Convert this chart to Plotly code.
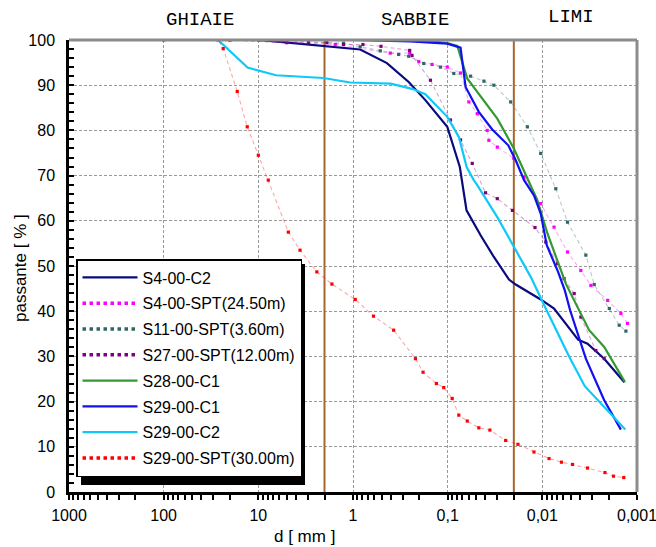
import plotly.graph_objects as go

# ---------------- data (grain size d [mm], passing %) ----------------
s4_c2_d = [25, 10, 5.9, 1.07, 0.839, 0.438, 0.258, 0.172, 0.101, 0.0744, 0.0632, 0.0449,
           0.0325, 0.0225, 0.0191, 0.0104, 0.00752, 0.00419, 0.00333, 0.00222, 0.00136]
s4_c2_p = [100, 100, 99.6, 98.1, 97.9, 94.9, 90.7, 86.7, 80.8, 71.9, 62.3, 56.8,
           52, 47, 45.9, 42.6, 40.6, 33.7, 32.8, 29.5, 24.3]

s4_spt_d = [20, 1.54, 0.404, 0.252, 0.202, 0.146, 0.101, 0.0731, 0.0597, 0.0487, 0.0382,
            0.0367, 0.0299, 0.020, 0.0156, 0.0104, 0.00752, 0.00542, 0.00392, 0.00307,
            0.00204, 0.00148, 0.00126]
s4_spt_p = [100, 99, 97.1, 97.1, 95.2, 94.6, 94, 92.7, 86.3, 83.7, 80,
            77.8, 76.3, 73.8, 69.7, 63.8, 58.6, 53.1, 49, 45.7,
            42.4, 39.5, 37.3]

s11_spt_d = [10, 1.26, 0.839, 0.515, 0.33, 0.258, 0.179, 0.119, 0.0861, 0.0573, 0.0414,
             0.0325, 0.0216, 0.0144, 0.0104, 0.00721, 0.00542, 0.00347, 0.00283, 0.00196,
             0.00154, 0.00131]
s11_spt_p = [100, 99.3, 98.5, 97.6, 96.8, 96.4, 94.8, 94, 92.6, 92, 90.9,
             90, 86.3, 80.8, 74.9, 67.1, 59.7, 52.4, 45.9, 40.6,
             36.9, 35.6]

s27_spt_d = [20, 5.0, 2.96, 1.89, 1.26, 0.786, 0.506, 0.252, 0.238, 0.152, 0.0934, 0.0731,
             0.055, 0.0398, 0.0299, 0.0207, 0.01195, 0.0092, 0.00692, 0.00589, 0.00461,
             0.00392, 0.00272, 0.00222]
s27_spt_p = [100, 99.4, 99.4, 99.4, 99, 99, 98.6, 97.7, 96.6, 91.1, 82.3, 77.9,
             72.7, 66.2, 64.9, 62.3, 58.5, 55.3, 50.5, 47.2, 43.9,
             38.7, 31.3, 29.5]

s28_c1_d = [25, 0.2, 0.101, 0.079, 0.0622, 0.0299, 0.020, 0.0144, 0.01127, 0.00883,
            0.00692, 0.00565, 0.00425, 0.0032, 0.00222, 0.00134]
s28_c1_p = [100, 100, 99.3, 98.7, 91.5, 82.6, 76, 69.3, 64.5, 57.2,
            51.3, 46.1, 40.9, 35.8, 32.1, 24.3]

s29_c1_d = [25, 1.0, 0.248, 0.101, 0.0731, 0.0647, 0.0469, 0.0338, 0.0229, 0.0191, 0.0156,
            0.01225, 0.0104, 0.00898, 0.00682, 0.00579, 0.00509, 0.00347, 0.00222, 0.00148]
s29_c1_p = [100, 100, 99.7, 99.2, 98.3, 89.6, 84.1, 80.2, 76.7, 73.4, 69,
            65.6, 61.6, 54.6, 48.7, 44.6, 40.2, 29.5, 20.3, 13.8]

s29_c2_d = [100, 26.6, 13.0, 6.5, 2.05, 1.07, 0.40, 0.238, 0.172, 0.101, 0.076, 0.063,
            0.053, 0.0487, 0.0299, 0.020, 0.01327, 0.0092, 0.0052, 0.00356, 0.00222, 0.00133]
s29_c2_p = [100, 100, 93.9, 92.2, 91.6, 90.6, 90.35, 89.2, 88, 83, 78.5, 71.9,
            69, 67.9, 60.8, 54.2, 47.6, 40.6, 29.9, 23.4, 18.8, 13.8]

s29_spt_d = [100, 26.6, 23.5, 16.7, 13.1, 10.0, 7.85, 4.82, 3.63, 2.41, 1.67, 0.948, 0.607,
             0.372, 0.219, 0.182, 0.1315, 0.11, 0.0896, 0.0762, 0.0621, 0.0469, 0.0358,
             0.0244, 0.0181, 0.01225, 0.0085, 0.00628, 0.0048, 0.00333, 0.00218, 0.00177,
             0.00138]
s29_spt_p = [100, 100, 98.1, 88.6, 80.8, 74.5, 69, 57.5, 53.5, 48.7, 46, 42.6, 38.9,
             35.8, 29.5, 26.5, 24, 23.1, 20.7, 17, 15.7, 14.2, 13.7,
             11.4, 10.55, 8.85, 7.4, 6.6, 6.1, 5.3, 4.3, 3.5,
             3.2]

# class boundaries [mm]
boundaries = [2, 0.02]
zone_labels = ["GHIAIE", "SABBIE", "LIMI"]

x_tickvals = [1000, 100, 10, 1, 0.1, 0.01, 0.001]
x_ticktext = ["1000", "100", "10", "1", "0,1", "0,01", "0,001"]
y_tickvals = list(range(0, 101, 10))

FONT = "Arial, Liberation Sans, sans-serif"
MONO = "Liberation Mono, Courier New, monospace"

# ---------------- figure ----------------
W, H = 656, 547
ML, MR, MT, MB = 69, 19, 40, 55
PW, PH = W - ML - MR, H - MT - MB


def xp(px):
    return (px - ML) / PW


def yp(py):
    return (H - MB - py) / PH


fig = go.Figure()

# class boundary lines
for b in boundaries:
    fig.add_trace(go.Scatter(x=[b, b], y=[0, 100], mode="lines",
                             line=dict(color="#A8672F", width=2),
                             showlegend=False, hoverinfo="skip"))

series = [
    ("S4-00-C2", s4_c2_d, s4_c2_p, "#0A0A80", "solid"),
    ("S4-00-SPT(24.50m)", s4_spt_d, s4_spt_p, "#FF00FF", "dot"),
    ("S11-00-SPT(3.60m)", s11_spt_d, s11_spt_p, "#2F6666", "dot"),
    ("S27-00-SPT(12.00m)", s27_spt_d, s27_spt_p, "#800080", "dot"),
    ("S28-00-C1", s28_c1_d, s28_c1_p, "#339933", "solid"),
    ("S29-00-C1", s29_c1_d, s29_c1_p, "#1010F0", "solid"),
    ("S29-00-C2", s29_c2_d, s29_c2_p, "#10C8F8", "solid"),
    ("S29-00-SPT(30.00m)", s29_spt_d, s29_spt_p, "#FF0000", "dot"),
]


def faint(hexcol, a):
    h = hexcol.lstrip("#")
    r, g, b = int(h[0:2], 16), int(h[2:4], 16), int(h[4:6], 16)
    return f"rgba({r},{g},{b},{a})"


for i, (name, d, p, col, style) in enumerate(series):
    grp = f"g{i}"
    if style == "solid":
        fig.add_trace(go.Scatter(x=d, y=p, name=name, mode="lines", legendgroup=grp,
                                 line=dict(color=col, width=2.2)))
    else:
        fig.add_trace(go.Scatter(x=d, y=p, name=name, mode="lines+markers", legendgroup=grp,
                                 line=dict(color=faint(col, 0.35), width=1.1, dash="4px,3px"),
                                 marker=dict(symbol="square", size=3.2, color=col),
                                 showlegend=False))
        # legend entry (thick dotted sample)
        fig.add_trace(go.Scatter(x=[None], y=[None], name=name, mode="lines", legendgroup=grp,
                                 line=dict(color=col, width=3.5, dash="dot")))

fig.update_xaxes(type="log", range=[3, -3], autorange=False, automargin=False,
                 tickvals=x_tickvals, ticktext=x_ticktext,
                 tickfont=dict(family=FONT, size=16, color="black"),
                 ticklabeloverflow="allow",
                 showgrid=True, gridcolor="#9A9A9A", gridwidth=1, griddash="3px,2px",
                 showline=True, linecolor="black", linewidth=2.5,
                 ticks="outside", ticklen=5, tickwidth=1.5, tickcolor="black",
                 ticklabelstandoff=2,
                 minor=dict(tickvals=[m * 10 ** e for e in range(-3, 3) for m in range(2, 10)],
                            ticks="outside", ticklen=5, tickwidth=1.5, tickcolor="black",
                            showgrid=False),
                 zeroline=False)

fig.update_yaxes(range=[0, 100], autorange=False, automargin=False, tickvals=y_tickvals,
                 tickfont=dict(family=FONT, size=16, color="black"),
                 showgrid=True, gridcolor="#9A9A9A", gridwidth=1, griddash="3px,2px",
                 showline=True, linecolor="black", linewidth=2.5,
                 ticks="inside", ticklen=5, tickwidth=1.5, tickcolor="black",
                 ticklabelstandoff=8,
                 minor=dict(dtick=2, ticks="inside", ticklen=5, tickwidth=1.5,
                            tickcolor="black", showgrid=False),
                 zeroline=False)

# legend geometry (pixels)
LEG_L, LEG_T = 76, 259
LEG_W, LEG_H = 224, 221
SH = 5

shapes = [
    # grey top and right frame
    dict(type="line", xref="paper", yref="paper", x0=0, x1=1, y0=1, y1=1,
         line=dict(color="#8C8C8C", width=3), layer="above"),
    dict(type="line", xref="paper", yref="paper", x0=1, x1=1, y0=0, y1=1,
         line=dict(color="#8C8C8C", width=3), layer="above"),
    # legend shadow
    dict(type="rect", xref="paper", yref="paper",
         x0=xp(LEG_L + SH), x1=xp(LEG_L + LEG_W + SH),
         y0=yp(LEG_T + LEG_H + SH), y1=yp(LEG_T + SH),
         fillcolor="black", line=dict(width=0), layer="above"),
]


def ann(text, px, py, font, angle=0):
    return dict(text=text, x=xp(px), y=yp(py), xref="paper", yref="paper",
                xanchor="center", yanchor="middle", textangle=angle,
                showarrow=False, font=font)


mono = dict(family=MONO, size=19, color="black")
annotations = [
    ann(zone_labels[0], 200, 20, mono),
    ann(zone_labels[1], 415, 20, mono),
    ann(zone_labels[2], 571, 17, mono),
    ann("d [ mm ]", 304, 536, dict(family=FONT, size=17, color="black")),
    ann("passante [ % ]", 20, 268, dict(family=FONT, size=17, color="black"), -90),
]

fig.update_layout(
    width=W, height=H,
    margin=dict(l=ML, r=MR, t=MT, b=MB, autoexpand=False),
    paper_bgcolor="white", plot_bgcolor="white",
    showlegend=True,
    legend=dict(x=xp(LEG_L), y=yp(LEG_T), xanchor="left", yanchor="top",
                bgcolor="white", bordercolor="black", borderwidth=1.5,
                font=dict(family=FONT, size=16, color="black"),
                itemwidth=55, tracegroupgap=2),
    shapes=shapes,
    annotations=annotations,
)

fig.write_html("out.html")
